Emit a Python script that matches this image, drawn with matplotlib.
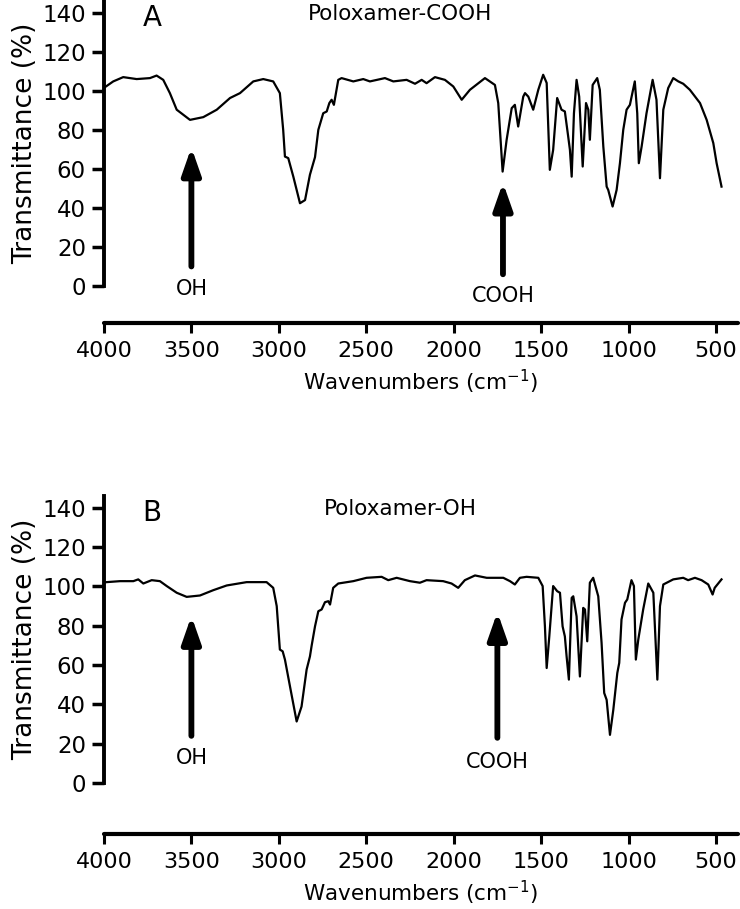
import matplotlib
matplotlib.use("Agg")
import matplotlib.pyplot as plt

plt.rcParams['font.family'] = ['DejaVu Sans']
plt.rcParams['mathtext.default'] = 'regular'

# Spectrum A: Poloxamer-COOH (wavenumber, transmittance)
wn_a = [4000, 3947, 3890, 3813, 3737, 3699, 3661, 3623, 3584, 3508, 3432, 3355,
        3279, 3222, 3146, 3089, 3032, 2994, 2975, 2965, 2946, 2917, 2879, 2850,
        2822, 2793, 2774, 2746, 2726, 2711, 2698, 2685, 2660, 2641, 2574, 2517,
        2479, 2393, 2345, 2269, 2221, 2183, 2155, 2107, 2050, 2002, 1954, 1907,
        1821, 1764, 1745, 1720, 1697, 1668, 1650, 1631, 1602, 1592, 1573, 1545,
        1516, 1488, 1468, 1450, 1431, 1408, 1383, 1364, 1345, 1335, 1325, 1312,
        1297, 1282, 1262, 1243, 1230, 1221, 1205, 1179, 1164, 1144, 1125, 1116,
        1091, 1068, 1049, 1030, 1011, 992, 964, 950, 941, 925, 897, 862,
        840, 820, 801, 773, 744, 715, 687, 649, 591, 553, 515, 496, 468]
t_a = [101.5, 104.8, 107, 106, 106.5, 107.8, 105.6, 98.8, 90.3, 85.1, 86.5, 90.3,
       96.3, 98.8, 104.8, 106, 104.8, 98.8, 80, 66.3, 65.5, 56, 42.4, 44,
       57, 66, 80, 88.5, 89.4, 93.7, 95.4, 92.8, 105.6, 106.5, 104.8, 106,
       104.8, 106.5, 104.8, 105.6, 103.6, 105.6, 103.9, 107, 105.6, 102.2, 95.4, 100.5,
       106.5, 103, 93.7, 58.6, 74.9, 91.1, 92.8, 81.7, 97, 98.8, 97, 90.3,
       100.5, 108.2, 104, 59.5, 69.7, 96.3, 90.3, 89.4, 76.6, 69.7, 56, 88.5,
       105.6, 97, 61.2, 93.7, 90.3, 74.9, 103, 106.5, 100.5, 71.4, 50.9, 49.2,
       40.7, 49.2, 62.9, 80, 90.3, 92.8, 104.8, 88.5, 62.9, 71.4, 88.5, 105.6,
       95.4, 55.2, 90.3, 101.4, 106.5, 104.8, 103.6, 100.5, 93.7, 85.1, 73.2, 62.9, 50.9]

# Spectrum B: Poloxamer-OH
wn_b = [4000, 3985, 3908, 3832, 3804, 3775, 3727, 3680, 3641, 3584, 3527, 3451,
        3375, 3298, 3184, 3070, 3032, 3012, 2994, 2978, 2965, 2936, 2898, 2870,
        2841, 2822, 2812, 2793, 2774, 2755, 2736, 2717, 2707, 2689, 2660, 2574,
        2498, 2412, 2374, 2326, 2250, 2193, 2155, 2060, 2012, 1974, 1936, 1878,
        1811, 1716, 1678, 1650, 1621, 1583, 1516, 1491, 1478, 1468, 1453, 1431,
        1408, 1392, 1377, 1364, 1354, 1341, 1325, 1316, 1297, 1278, 1259, 1249,
        1236, 1221, 1202, 1173, 1154, 1139, 1125, 1106, 1087, 1064, 1053, 1040,
        1020, 1007, 983, 969, 958, 944, 916, 887, 858, 835, 820, 801,
        744, 687, 659, 620, 582, 544, 519, 507, 468]
t_b = [102, 102.2, 102.7, 102.7, 103.6, 101.5, 103.2, 102.7, 100.2, 96.8, 94.7, 95.4,
       98.1, 100.5, 102.2, 102.2, 99.3, 90, 67.9, 67, 62.8, 49.1, 31.3, 38.9,
       57.7, 64.4, 70, 79.7, 87.4, 88.3, 92, 92.5, 90.8, 99.3, 101.5, 102.7,
       104.4, 104.9, 103.2, 104.4, 102.7, 101.9, 103.2, 102.7, 101.5, 99.3, 103.2, 105.6,
       104.4, 104.4, 102.7, 101, 104.4, 104.9, 104.4, 100.2, 79.7, 58.5, 74.6, 100.2,
       97.6, 96.8, 79.7, 74.6, 64.4, 52.6, 94.2, 95, 84.8, 54.2, 89.1, 88.3,
       72.1, 101.9, 104.4, 95, 71.3, 45.8, 42.3, 24.5, 37.2, 56, 61.1, 83.2,
       91.7, 93.4, 103.2, 100.2, 62.8, 73, 88.3, 101.5, 96.8, 52.6, 90, 101,
       103.6, 104.4, 103.2, 104.4, 103.2, 101, 95.9, 99.3, 103.6]

x_ticks = [4000, 3500, 3000, 2500, 2000, 1500, 1000, 500]
y_ticks = [0, 20, 40, 60, 80, 100, 120, 140]

panels = [
    dict(wn=wn_a, t=t_a, letter="A", title="Poloxamer-COOH",
         rect=[0.1405, 0.6854, 0.8565, 0.3135], offset=26.6,
         oh=(3500, 71, 10, -1.5), cooh=(1718, 53, 6, -5)),
    dict(wn=wn_b, t=t_b, letter="B", title="Poloxamer-OH",
         rect=[0.1405, 0.1386, 0.8565, 0.3157], offset=36.7,
         oh=(3500, 85, 24, 12.5), cooh=(1750, 87, 23, 10.5)),
]

fig = plt.figure(figsize=(7.4, 9.09), dpi=100)

for p in panels:
    ax = fig.add_axes(p["rect"])
    ax.plot(p["wn"], p["t"], color="black", lw=1.6)
    ax.set_xlim(4000, 375)
    ax.set_ylim(0, 146)
    ax.set_xticks(x_ticks)
    ax.set_yticks(y_ticks)
    ax.spines["top"].set_visible(False)
    ax.spines["right"].set_visible(False)
    ax.spines["left"].set_linewidth(2.8)
    ax.spines["bottom"].set_linewidth(3)
    ax.spines["bottom"].set_position(("outward", p["offset"]))
    ax.spines["bottom"].set_capstyle("round")
    ax.tick_params(axis="y", length=9, width=2.5, pad=4, labelsize=16.5)
    ax.tick_params(axis="x", length=7, width=2.2, pad=6, labelsize=16)
    ax.set_ylabel("Transmittance (%)", fontsize=19, labelpad=3)
    ax.set_xlabel("Wavenumbers (cm$^{-1}$)", fontsize=15.5, labelpad=5)

    ax.text(3725, 137.5, p["letter"], fontsize=20, ha="center", va="center")
    ax.text(2307, 139.5, p["title"], fontsize=15.5, ha="center", va="center")

    for label, (x, tip, tail, ty) in (("OH", p["oh"]), ("COOH", p["cooh"])):
        ax.annotate("", xy=(x, tip), xytext=(x, tail),
                    arrowprops=dict(arrowstyle="-|>,head_length=0.8,head_width=0.28",
                                    lw=4.2, color="black", mutation_scale=20,
                                    shrinkA=0, shrinkB=0))
        ax.text(x, ty, label, fontsize=15, ha="center", va="center", clip_on=False)

fig.savefig("out.png", dpi=100)
